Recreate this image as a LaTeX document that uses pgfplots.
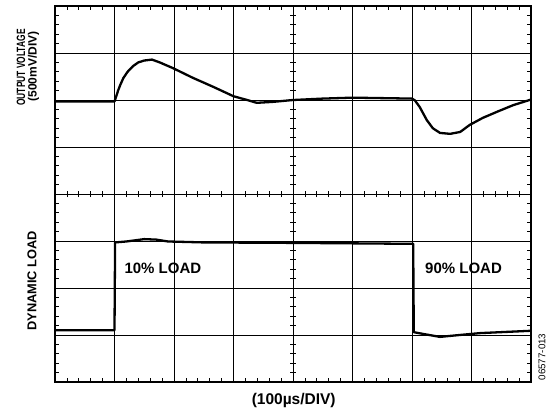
\documentclass[border=0pt]{standalone}
\usepackage{pgfplots}
\pgfplotsset{compat=1.18}
\usepackage{fontspec}
\setmainfont{Liberation Sans}
\begin{document}
\begin{tikzpicture}
\useasboundingbox (-55pt,-31pt) rectangle (501pt,382pt);
\begin{axis}[
    width=476pt, height=376pt, scale only axis,
    xmin=0, xmax=8, ymin=0, ymax=8,
    xtick={0,...,8}, ytick={0,...,8},
    xticklabels={}, yticklabels={},
    grid=major,
    major grid style={black, line width=0.8pt},
    minor x tick num=4, minor y tick num=4,
    xtick pos=both, ytick pos=both,
    tick align=inside,
    major tick length=0pt, minor tick length=4pt,
    tick style={black, line width=0.7pt},
    axis line style={line width=1.3pt},
    clip=false,
  ]
  % output voltage
  \addplot[black, line width=2.3pt, line join=round] coordinates {
    (0,5.97) (1.0,5.97) (1.03,6.08) (1.06,6.2) (1.1,6.33) (1.15,6.47)
    (1.22,6.6) (1.31,6.72) (1.4,6.8) (1.5,6.84) (1.63,6.86) (1.76,6.8)
    (1.98,6.68) (2.32,6.47) (2.66,6.28) (3.0,6.08) (3.23,6.0) (3.39,5.94)
    (3.66,5.96) (4.0,6.0) (4.5,6.03) (5.0,6.05) (5.5,6.04) (6.0,6.03)
    (6.05,5.99) (6.13,5.85) (6.25,5.57) (6.35,5.40) (6.47,5.30) (6.64,5.28)
    (6.81,5.32) (6.97,5.47) (7.19,5.62) (7.43,5.75) (7.70,5.89) (8.0,6.01)
  };
  % dynamic load
  \addplot[black, line width=2.3pt, line join=round] coordinates {
    (0,1.1) (1.0,1.1) (1.01,2.97) (1.2,2.99) (1.5,3.04) (1.7,3.03) (1.9,2.99)
    (2.5,2.97) (4,2.96) (6.02,2.94) (6.03,1.06) (6.2,1.02) (6.47,0.96)
    (6.8,1.0) (7.14,1.04) (8,1.09)
  };
  \node[anchor=west, font=\fontsize{15}{18}\selectfont\bfseries]
    at (rel axis cs:0.1387,0.3032) {10\% LOAD};
  \node[anchor=west, font=\fontsize{15}{18}\selectfont\bfseries]
    at (rel axis cs:0.7704,0.3032) {90\% LOAD};
\end{axis}
% tick marks on the centre lines
\foreach \k in {1,...,39} {
  \draw[line width=0.7pt] (\k*11.9pt,185pt) -- (\k*11.9pt,191pt);
  \draw[line width=0.7pt] (235pt,\k*9.4pt) -- (241pt,\k*9.4pt);
}
\node[rotate=90, font=\fontsize{12}{14}\selectfont\bfseries] at (-34pt,314.5pt)
  {\scalebox{0.7}[1]{OUTPUT VOLTAGE}};
\node[rotate=90, font=\fontsize{12}{14}\selectfont\bfseries] at (-21.5pt,315.5pt)
  {(500mV/DIV)};
\node[rotate=90, font=\fontsize{12.8}{15}\selectfont\bfseries] at (-23pt,101pt)
  {DYNAMIC LOAD};
\node[font=\fontsize{15.5}{18}\selectfont\bfseries] at (238.7pt,-18.5pt)
  {(100µs/DIV)};
\node[rotate=90, font=\fontsize{9.8}{11}\selectfont] at (487pt,25pt)
  {06577-013};
\end{tikzpicture}
\end{document}
